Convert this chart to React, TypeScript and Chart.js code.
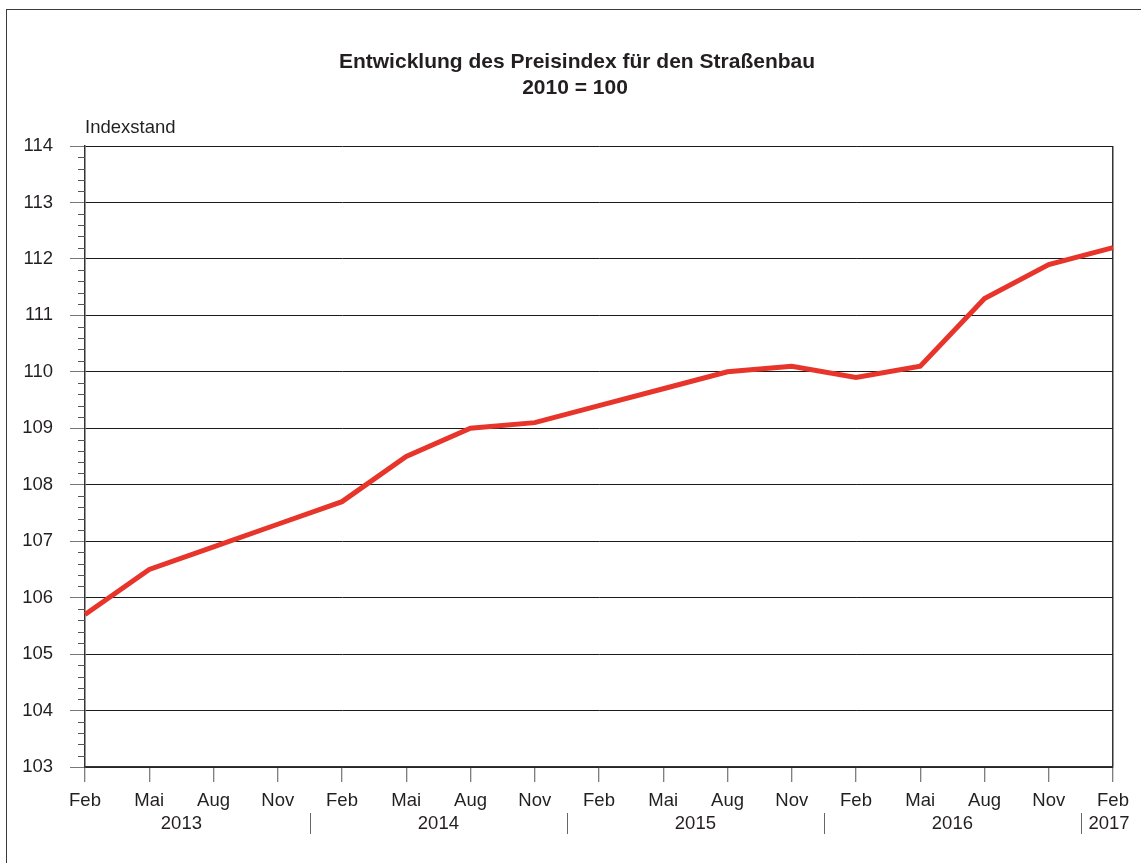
import React, { useEffect, useRef } from 'react';
import { Chart, registerables } from 'chart.js';

Chart.register(...registerables);

const months = ['Feb', 'Mai', 'Aug', 'Nov', 'Feb', 'Mai', 'Aug', 'Nov', 'Feb', 'Mai', 'Aug', 'Nov', 'Feb', 'Mai', 'Aug', 'Nov', 'Feb'];
const years = ['2013', '2014', '2015', '2016', '2017'];
const indexValues = [105.7, 106.5, 106.9, 107.3, 107.7, 108.5, 109.0, 109.1, 109.4, 109.7, 110.0, 110.1, 109.9, 110.1, 111.3, 111.9, 112.2];
const titleLines = ['Entwicklung des Preisindex für den Straßenbau', '2010 = 100'];
const yAxisTitle = 'Indexstand';
const yMin = 103;
const yMax = 114;
const minorStep = 0.2;

const FONT = "'Liberation Sans', Arial, sans-serif";
const TEXT = '#231f20';
const LABEL_SIZE = 18.5;

export default function App() {
  const ref = useRef<HTMLCanvasElement | null>(null);

  useEffect(() => {
    if (!ref.current) return;

    const decor = {
      id: 'decor',
      afterDraw(chart: any) {
        const ctx = chart.ctx;
        const area = chart.chartArea;
        const xs = chart.scales.x;
        const ys = chart.scales.y;
        ctx.save();
        // title
        ctx.fillStyle = TEXT;
        ctx.font = `bold 21px ${FONT}`;
        ctx.textAlign = 'center';
        ctx.textBaseline = 'middle';
        ctx.fillText(titleLines[0], 577, 62);
        ctx.fillText(titleLines[1], 575, 88);
        // y axis title
        ctx.font = `${LABEL_SIZE}px ${FONT}`;
        ctx.textAlign = 'left';
        ctx.fillText(yAxisTitle, area.left, 128);
        // minor ticks
        ctx.strokeStyle = '#555';
        ctx.lineWidth = 1;
        const n = Math.round((yMax - yMin) / minorStep);
        for (let i = 1; i < n; i++) {
          if (i % 5 === 0) continue;
          const v = yMin + i * minorStep;
          const y = Math.round(ys.getPixelForValue(v)) + 0.5;
          ctx.beginPath();
          ctx.moveTo(area.left - 7, y);
          ctx.lineTo(area.left, y);
          ctx.stroke();
        }
        // year labels and separators
        ctx.font = `${LABEL_SIZE}px ${FONT}`;
        ctx.textAlign = 'center';
        const starts: number[] = [];
        months.forEach((m, i) => { if (m === 'Feb') starts.push(i); });
        starts.forEach((s, k) => {
          const e = k + 1 < starts.length ? starts[k + 1] - 1 : months.length - 1;
          const cx = (xs.getPixelForValue(s) + xs.getPixelForValue(e)) / 2;
          ctx.fillStyle = TEXT;
          ctx.fillText(years[k], e === s && k === starts.length - 1 ? cx - 4 : cx, 824);
          if (k > 0) {
            const sx = Math.round((xs.getPixelForValue(s - 1) + xs.getPixelForValue(s)) / 2) + 0.5;
            ctx.strokeStyle = '#666';
            ctx.beginPath();
            ctx.moveTo(sx, 813);
            ctx.lineTo(sx, 834);
            ctx.stroke();
          }
        });
        ctx.restore();
      },
    };

    const last = months.length - 1;
    const chart = new Chart(ref.current, {
      type: 'line',
      data: {
        labels: months,
        datasets: [
          {
            data: indexValues,
            borderColor: '#e8352b',
            borderWidth: 5,
            pointRadius: 0,
            tension: 0,
            fill: false,
            borderJoinStyle: 'miter',
          },
        ],
      },
      options: {
        responsive: false,
        animation: false,
        devicePixelRatio: 1,
        layout: { padding: { left: 0, top: 146, right: 28, bottom: 0 } },
        plugins: {
          legend: { display: false },
          title: { display: false },
          tooltip: { enabled: false },
        },
        scales: {
          x: {
            type: 'category',
            offset: false,
            grid: {
              color: (c: any) => (c.index === last ? '#333' : 'rgba(0,0,0,0)'),
              lineWidth: 1.5,
              tickLength: 15,
              tickColor: '#555',
              tickWidth: 1,
            },
            border: { color: '#333', width: 1.5 },
            ticks: {
              autoSkip: false,
              maxRotation: 0,
              padding: 8,
              color: TEXT,
              font: { family: FONT, size: LABEL_SIZE },
            },
            afterFit: (s: any) => { s.height = 96; },
          },
          y: {
            min: yMin,
            max: yMax,
            grid: {
              color: '#1a1a1a',
              lineWidth: 1,
              tickLength: 15,
              tickColor: '#777',
            },
            border: { color: '#333', width: 1.5 },
            ticks: {
              stepSize: 1,
              padding: 17,
              color: TEXT,
              font: { family: FONT, size: LABEL_SIZE },
            },
            afterFit: (s: any) => { s.width = 85; },
          },
        },
      },
      plugins: [decor],
    } as any);

    return () => chart.destroy();
  }, []);

  return (
    <div style={{ position: 'fixed', left: 0, top: 0, width: 1141, height: 863, background: '#fff', overflow: 'hidden' }}>
      <div style={{ position: 'absolute', left: 6, top: 9, width: 1200, height: 900, border: '1.5px solid #3a3a3a', boxSizing: 'border-box' }} />
      <canvas ref={ref} width={1141} height={863} style={{ position: 'absolute', left: 0, top: 0, width: 1141, height: 863 }} />
    </div>
  );
}
